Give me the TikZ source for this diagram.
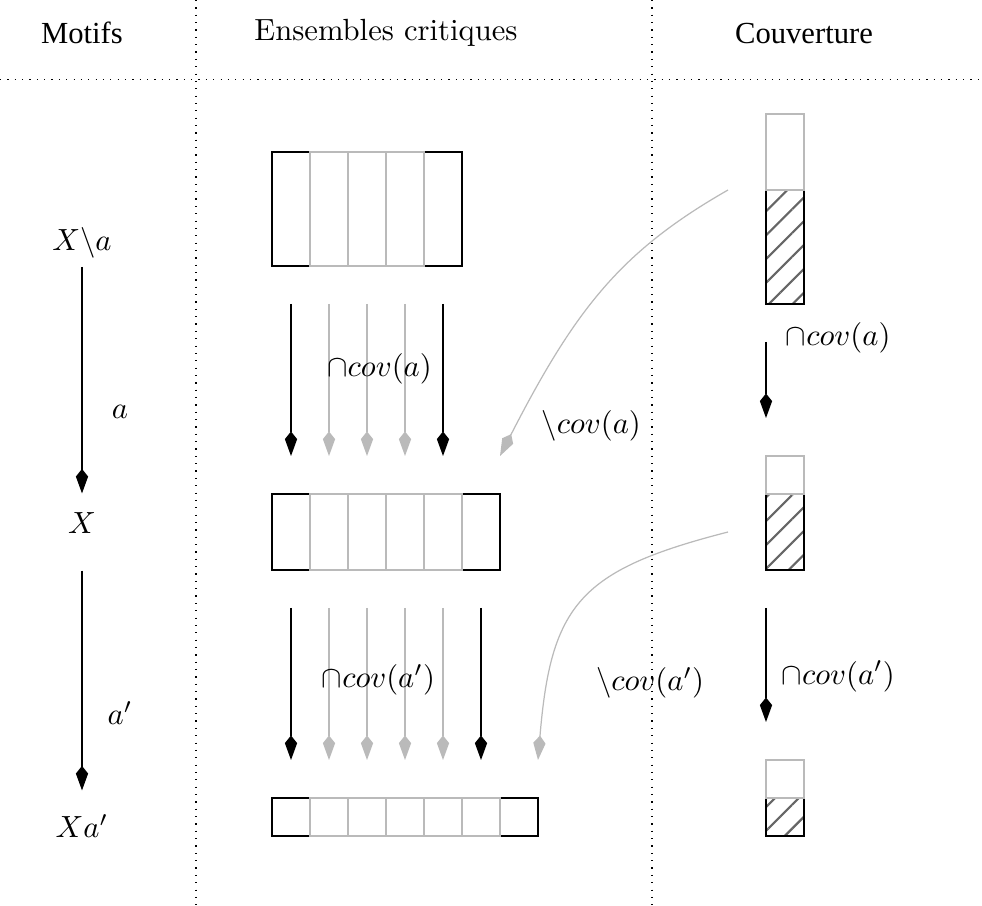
\documentclass[tikz,border=0pt]{standalone}
\usepackage{fontspec}
\newfontfamily\timesfont{Liberation Serif}
\usetikzlibrary{arrows.meta,patterns.meta}
\tikzset{
  fleche/.style={-{Kite[length=8pt,width=4pt,inset=2.5pt]}},
  pale/.style={draw=black!27},
  hachure/.style={draw,pattern={Lines[angle=45,distance=5.5pt,line width=0.7pt]},pattern color=black!60},
  sep/.style={dotted}
}
\begin{document}
\begin{tikzpicture}[x=0.436cm,y=0.436cm]
\useasboundingbox (-7.158,-1.842) rectangle (18.684,22);

% titres
\node (motifs) at (-5,21.13) {\timesfont Motifs};
\node (ens) at (3,21.13) {Ensembles critiques};
\node (couv) at (14,21.13) {\timesfont Couverture};
\draw[sep] (-7.158,19.9) -- (18.684,19.9);
\draw[sep] (-2,22) -- (-2,-1.842);
\draw[sep] (10,22) -- (10,-1.842);

% motifs
\node (Xa) at (-5,15.6) [inner sep=0pt] {$X\backslash a$};
\node (X) at (-5,8.24) [inner sep=0pt] {$X$};
\node (Xap) at (-5,0.26) [inner sep=0pt] {$Xa'$};
\draw[fleche,shorten <=2.5pt,shorten >=6pt] (Xa) -- (X);
\draw[fleche,shorten <=12pt,shorten >=7.7pt] (X) -- (Xap);
\node (la) at (-4,11.16) {$a$};
\node (lap) at (-4,3.24) {$a'$};

% ensembles critiques
\draw (0,15) rectangle (1,18);
\draw (4,15) rectangle (5,18);
\foreach \i in {1,2,3} \draw[pale] (\i,15) rectangle ++(1,3);
\draw (0,7) rectangle (1,9);
\draw (5,7) rectangle (6,9);
\foreach \i in {1,...,4} \draw[pale] (\i,7) rectangle ++(1,2);
\draw (0,0) rectangle (1,1);
\draw (6,0) rectangle (7,1);
\foreach \i in {1,...,5} \draw[pale] (\i,0) rectangle ++(1,1);

\foreach \x in {0.5,4.5} \draw[fleche] (\x,14) -- (\x,10);
\foreach \x in {1.5,2.5,3.5} \draw[fleche,pale] (\x,14) -- (\x,10);
\foreach \x in {0.5,5.5} \draw[fleche] (\x,6) -- (\x,2);
\foreach \x in {1.5,2.5,3.5,4.5} \draw[fleche,pale] (\x,6) -- (\x,2);
\node (inter1) at (2.83,12.3) {$\cap cov(a)$};
\node (inter2) at (2.8,4.1) {$\cap cov(a')$};

% couverture
\draw[hachure] (13,14) rectangle (14,17);
\draw[pale] (13,17) rectangle (14,19);
\draw[hachure] (13,7) rectangle (14,9);
\draw[pale] (13,9) rectangle (14,10);
\draw[hachure] (13,0) rectangle (14,1);
\draw[pale] (13,1) rectangle (14,2);

\draw[fleche] (13,13) -- (13,11);
\draw[fleche] (13,6) -- (13,3);
\node (c1) at (14.9,13.1) {$\cap cov(a)$};
\node (c2) at (14.9,4.2) {$\cap cov(a')$};

% retraits
\draw[fleche,pale] (12,17) .. controls (9.2,15.4) and (8,13.9) .. (6,10);
\draw[fleche,pale] (12,8) .. controls (8.1,7) and (7.34,6.1) .. (7,2);
\node (moins1) at (8.4,10.8) {$\backslash cov(a)$};
\node (moins2) at (9.95,4.03) {$\backslash cov(a')$};
\end{tikzpicture}
\end{document}
